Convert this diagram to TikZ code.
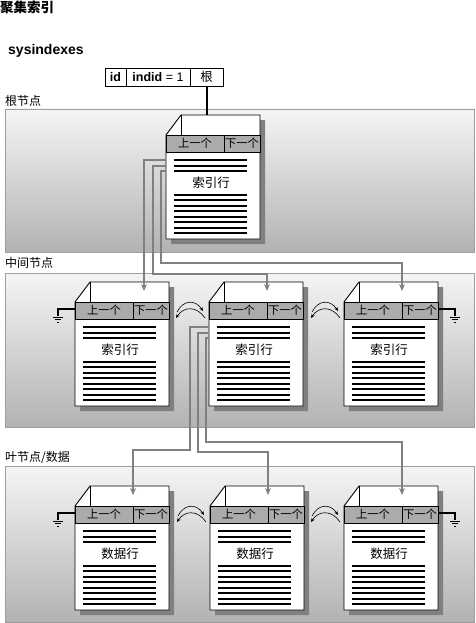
\documentclass[tikz,border=0pt]{standalone}
\usepackage{fontspec}
\setmainfont{Liberation Sans}
\newfontfamily\cjk{Noto Sans CJK SC}
\usetikzlibrary{positioning,arrows.meta}

\tikzset{
  band/.style={draw=black!38,line width=0.8,top color=black!4,bottom color=black!30},
  bandlabel/.style={anchor=west,inner sep=0,font=\cjk\fontsize{12}{14}\selectfont},
  cell/.style={draw,line width=0.9,minimum height=18,inner sep=0,outer sep=0,font=\fontsize{12.5}{14}\selectfont},
  pagebody/.style={fill=white,draw=black,line width=0.9},
  pageshadow/.style={fill=black!50},
  pagehead/.style={fill=black!33,draw=black,line width=0.9},
  headtext/.style={inner sep=0,font=\cjk\fontsize{11.3}{12}\selectfont},
  rowtext/.style={inner sep=0,font=\cjk\fontsize{12.5}{14}\selectfont},
  rowline/.style={line width=2},
  link/.style={draw=black!50,line width=2,-{Stealth[length=7,width=6]}},
  rootptr/.style={line width=2},
  wire/.style={line width=2},
  swap/.style={line width=0.6,-{Stealth[length=4,width=3.5]}},
  earth/.pic={\draw[line width=1] (-5,1) -- (5,1) (-3,3.5) -- (3,3.5) (-1,6) -- (1,6);}
}

\newcommand\idxpage[4]{%
  \begin{scope}[shift={(#2,#3)}]
    \fill[pageshadow] (20,5) -- (99,5) -- (99,129) -- (5,129) -- (5,25) -- cycle;
    \path[pagebody] (15,0) -- (94,0) -- (94,124) -- (0,124) -- (0,20) -- cycle;
    \draw[line width=0.9] (15,0) -- (15,20);
    \path[pagehead] (0,20) rectangle (94,37);
    \draw[line width=0.9] (58,20) -- (58,37);
    \node[headtext] (#1-prev) at (29,28.5) {上一个};
    \node[headtext] (#1-next) at (76,28.5) {下一个};
    \foreach \ly in {45,50.5,56} \draw[rowline] (8,\ly) -- (81,\ly);
    \foreach \k in {0,...,7} \draw[rowline] (8,79.5+5.5*\k) -- (81,79.5+5.5*\k);
    \node[rowtext] (#1-text) at (45,68) {#4};
    \coordinate (#1-top) at (47,0);
    \coordinate (#1-tip) at (58,9);
    \coordinate (#1-l1) at (0,45);
    \coordinate (#1-l2) at (0,50.5);
    \coordinate (#1-l3) at (0,56);
    \coordinate (#1-hl) at (0,27);
    \coordinate (#1-hr) at (94,27);
  \end{scope}}

\begin{document}
\begin{tikzpicture}[x=1pt,y=-1pt]
\useasboundingbox (0,0) rectangle (475,623);

\node[anchor=north west,inner sep=0,font=\cjk\bfseries\fontsize{13.5}{15}\selectfont] (title) at (0,1) {聚集索引};
\node[anchor=base west,inner sep=0,font=\bfseries\fontsize{14}{16}\selectfont] (sysidx) at (8,55) {sysindexes};

\node[cell,minimum width=21] (cell-id) at (115.5,77) {\bfseries id};
\node[cell,minimum width=64,right=0pt of cell-id] (cell-indid) {\textbf{indid} = 1};
\node[cell,minimum width=33,right=0pt of cell-indid] (cell-root) {\cjk 根};

\path[band] (5,109) rectangle (474,252);
\path[band] (5,273) rectangle (474,427);
\path[band] (5,466) rectangle (474,622);
\node[bandlabel] (lbl-root) at (5,101) {根节点};
\node[bandlabel] (lbl-mid) at (5,263) {中间节点};
\node[bandlabel] (lbl-leaf) at (5,458) {叶节点/数据};

\idxpage{root}{166}{115}{索引行}
\idxpage{mid1}{75}{282}{索引行}
\idxpage{mid2}{209}{282}{索引行}
\idxpage{mid3}{344}{282}{索引行}
\idxpage{leaf1}{75}{486}{数据行}
\idxpage{leaf2}{210}{486}{数据行}
\idxpage{leaf3}{344}{486}{数据行}

\draw[rootptr] (cell-root.south) -- (cell-root.south |- root-top);

\draw[link] (root-l1) -| (144,0 |- mid1-tip);
\draw[link] (root-l2) -| (153,274) -| (mid2-tip);
\draw[link] (root-l3) -| (161,263) -| (mid3-tip);
\draw[link] (mid2-l1) -| (190,450) -| (leaf1-tip);
\draw[link] (mid2-l2) -| (198,452) -| (leaf2-tip);
\draw[link] (mid2-l3) -| (206,442) -| (leaf3-tip);

\draw[wire] (mid1-hl) -- ++(-17,0) -- ++(0,7) coordinate (mid1-gnd);
\draw[wire] (mid3-hr) -- ++(17,0) -- ++(0,7) coordinate (mid3-gnd);
\draw[wire] (leaf1-hl) -- ++(-17,0) -- ++(0,7) coordinate (leaf1-gnd);
\draw[wire] (leaf3-hr) -- ++(17,0) -- ++(0,7) coordinate (leaf3-gnd);
\foreach \g in {mid1,mid3,leaf1,leaf3} \pic at (\g-gnd) {earth};

\foreach \p in {mid2,mid3,leaf2,leaf3}{
  \draw[swap] ([shift={(-32,3)}]\p-hl) .. controls +(6,-12) and +(-8,-12) .. ([shift={(-6,2)}]\p-hl);
  \draw[swap] ([shift={(-4,9)}]\p-hl) .. controls +(-8,-12) and +(8,-12) .. ([shift={(-33,9)}]\p-hl);
}

\end{tikzpicture}
\end{document}
